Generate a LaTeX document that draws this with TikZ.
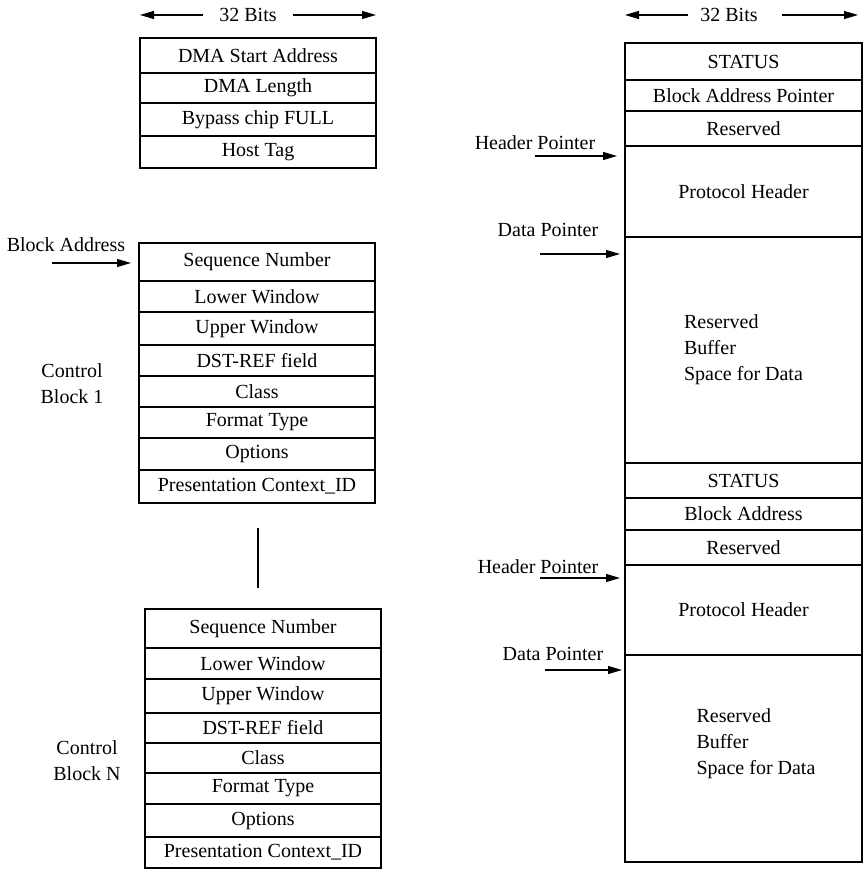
\documentclass[tikz,border=0pt]{standalone}
\usepackage{fontspec}
\setmainfont{Liberation Serif}
\usetikzlibrary{positioning,calc,arrows.meta}

\begin{document}
\begin{tikzpicture}[x=1pt,y=-1pt,
    every node/.style={font=\fontsize{20}{26}\selectfont},
    field/.style={draw, line width=1.1pt, anchor=north west, minimum width=236pt, inner sep=0pt, outer sep=0pt},
    ptr/.style={-{Triangle[length=14pt,width=8pt]}, line width=1.1pt}]
\useasboundingbox (0,0) rectangle (864,874);

% DMA descriptor
\node (bitsA) at (248,15) [inner xsep=16pt] {32 Bits};
\node[field, minimum height=35] (dmastart) at (140,38) {DMA Start Address};
\node[field, minimum height=30, below=0pt of dmastart] (dmalen) {DMA Length};
\node[field, minimum height=33, below=0pt of dmalen] (bypass) {Bypass chip FULL};
\node[field, minimum height=32, below=0pt of bypass] (hosttag) {Host Tag};
\draw[ptr] (bitsA.west) -- (bitsA.west -| dmastart.west);
\draw[ptr] (bitsA.east) -- (bitsA.east -| dmastart.east);

% Control block 1
\node[field, minimum height=38] (seqA) at (139,243) {Sequence Number};
\node[field, minimum height=31, below=0pt of seqA] (lowA) {Lower Window};
\node[field, minimum height=33, below=0pt of lowA] (uppA) {Upper Window};
\node[field, minimum height=31, below=0pt of uppA] (dstA) {DST-REF field};
\node[field, minimum height=31, below=0pt of dstA] (classA) {Class};
\node[field, minimum height=31, below=0pt of classA] (fmtA) {Format Type};
\node[field, minimum height=32, below=0pt of fmtA] (optA) {Options};
\node[field, minimum height=33, below=0pt of optA] (ctxA) {Presentation Context\_ID};
\node[align=center] (cbA) at (72,384) {Control\\Block 1};
\node (blkaddr) at (66,245) {Block Address};
\coordinate (blkaddrtail) at (52,263);
\draw[ptr, shorten >=8pt] (blkaddrtail) -- (blkaddrtail -| seqA.west);

% gap between blocks
\coordinate (gaptop) at (258,528);
\coordinate (gapbot) at (258,588);
\draw[line width=1.1pt] (gaptop) -- (gapbot);

% Control block N
\node[field, minimum height=39] (seqN) at (145,609) {Sequence Number};
\node[field, minimum height=31, below=0pt of seqN] (lowN) {Lower Window};
\node[field, minimum height=34, below=0pt of lowN] (uppN) {Upper Window};
\node[field, minimum height=30, below=0pt of uppN] (dstN) {DST-REF field};
\node[field, minimum height=30, below=0pt of dstN] (classN) {Class};
\node[field, minimum height=31, below=0pt of classN] (fmtN) {Format Type};
\node[field, minimum height=33, below=0pt of fmtN] (optN) {Options};
\node[field, minimum height=31, below=0pt of optN] (ctxN) {Presentation Context\_ID};
\node[align=center] (cbN) at (87,761) {Control\\Block N};

% Buffer memory
\node (bitsB) at (729,15) [inner xsep=12pt] {32 Bits};
\node[field, minimum width=237pt, minimum height=37] (statusA) at (625,43) {STATUS};
\node[field, minimum width=237pt, minimum height=31, below=0pt of statusA] (bapA) {Block Address Pointer};
\node[field, minimum width=237pt, minimum height=35, below=0pt of bapA] (resA) {Reserved};
\node[field, minimum width=237pt, minimum height=91, below=0pt of resA] (protoA) {Protocol Header};
\node[field, minimum width=237pt, minimum height=226, below=0pt of protoA, align=left] (bufA) {Reserved\\Buffer\\Space for Data};
\node[field, minimum width=237pt, minimum height=35, below=0pt of bufA] (statusB) {STATUS};
\node[field, minimum width=237pt, minimum height=32, below=0pt of statusB] (baB) {Block Address};
\node[field, minimum width=237pt, minimum height=35, below=0pt of baB] (resB) {Reserved};
\node[field, minimum width=237pt, minimum height=90, below=0pt of resB] (protoB) {Protocol Header};
\node[field, minimum width=237pt, minimum height=207, below=0pt of protoB] (bufB) {};
\node[align=left] (buftxtB) at (756,744) {Reserved\\Buffer\\Space for Data};
\draw[ptr] (bitsB.west) -- (bitsB.west -| statusA.west);
\draw[ptr, shorten <=12pt] (bitsB.east) -- ($(bitsB.east -| statusA.east)+(-4,0)$);

% pointers
\node (hdrA) at (535,143) {Header Pointer};
\coordinate (hdrAtail) at (535,156);
\draw[ptr, shorten >=8pt] (hdrAtail) -- (hdrAtail -| protoA.west);
\node (datA) at (548,230) {Data Pointer};
\coordinate (datAtail) at (540,254);
\draw[ptr, shorten >=5pt] (datAtail) -- (datAtail -| bufA.west);
\node (hdrB) at (538,567) {Header Pointer};
\coordinate (hdrBtail) at (540,578);
\draw[ptr, shorten >=5pt] (hdrBtail) -- (hdrBtail -| protoB.west);
\node (datB) at (553,654) {Data Pointer};
\coordinate (datBtail) at (545,670);
\draw[ptr, shorten >=3pt] (datBtail) -- (datBtail -| bufB.west);
\end{tikzpicture}
\end{document}
